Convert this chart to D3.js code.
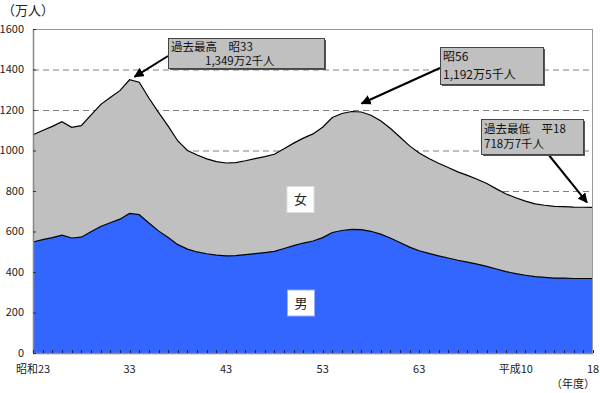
<!DOCTYPE html>
<html><head><meta charset="utf-8">
<script src="https://cdn.jsdelivr.net/npm/d3@7"></script>
<style>
html,body{margin:0;padding:0;background:#fff;}
svg{display:block;font-family:"Noto Sans CJK JP","Noto Sans",sans-serif;}
</style></head>
<body><svg id="c" width="600" height="393"></svg>
<script>
// 年度 (西暦)
const years = d3.range(1948, 2007);
// 男 (万人)
const male = [548,560,570,582,568,572,599,625,643,661,689,683,642,603,570,535,513,499,490,483,480,481,486,491,496,502,516,530,543,553,570,595,605,610,609,601,587,568,546,523,505,492,480,469,458,449,439,428,415,402,392,384,377,373,370,370,368,368,368];
// 合計 (万人)
const total = [1077.5,1099.1,1119.1,1142.3,1114.8,1122.5,1175.1,1226.7,1261.6,1295.6,1349.2,1337.5,1259.1,1188.0,1120.0,1047.0,1000.0,977.6,958.4,945.3,938.3,940.3,949.3,959.6,969.6,981.6,1008.9,1036.5,1061.0,1081.9,1114.6,1163.0,1182.7,1192.5,1190.2,1173.9,1146.5,1109.5,1066.5,1022.7,987.3,960.7,937.3,915.7,894.7,876.9,858.3,837.0,810.5,785.5,766.4,750.0,736.6,729.7,723.9,722.7,720.1,719.7,718.7];
const yTicks = [0,200,400,600,800,1000,1200,1400,1600];
const xLabels = [[1948,"昭和23"],[1958,"33"],[1968,"43"],[1978,"53"],[1988,"63"],[1998,"平成10"],[2006,"18"]];
const seriesNames = ["男","女"];

const rows = years.map((y,i)=>({year:y, "男":male[i], "女":+(total[i]-male[i]).toFixed(1)}));
const stack = d3.stack().keys(seriesNames)(rows);

const svg = d3.select("#c");
const L=33, R=593, T=29, B=353;
const x = d3.scaleLinear().domain([1948,2006]).range([L,R]);
const y = d3.scaleLinear().domain([0,1600]).range([B,T]);

// gridlines
svg.append("g").selectAll("line").data(yTicks.filter(v=>v>0&&v<1600)).join("line")
  .attr("x1",L).attr("x2",R).attr("y1",d=>y(d)+0.5).attr("y2",d=>y(d)+0.5)
  .attr("stroke","#808080").attr("stroke-width",1).attr("stroke-dasharray","6,4");

const colors = {"男":"#3366ff","女":"#c0c0c0"};
const area = d3.area().x(d=>x(d.data.year)).y0(d=>y(d[0])).y1(d=>y(d[1]));
const line = d3.line().x(d=>x(d.data.year)).y(d=>y(d[1]));
svg.append("g").selectAll("path").data(stack).join("path")
  .attr("d",area).attr("fill",d=>colors[d.key]);
svg.append("g").selectAll("path").data(stack).join("path")
  .attr("d",line).attr("fill","none").attr("stroke","#000").attr("stroke-width",1.2);

// plot border
svg.append("rect").attr("x",L+0.5).attr("y",T+0.5).attr("width",R-L-1).attr("height",B-T)
  .attr("fill","none").attr("stroke","#999");
// axes lines
svg.append("line").attr("x1",L).attr("x2",R).attr("y1",B+0.5).attr("y2",B+0.5).attr("stroke","#888").attr("stroke-width",1.5);
svg.append("line").attr("x1",L+0.5).attr("x2",L+0.5).attr("y1",T).attr("y2",B).attr("stroke","#888").attr("stroke-width",1.5);

// x ticks (inward)
svg.append("g").selectAll("line").data(years).join("line")
  .attr("x1",d=>Math.round(x(d))+0.5).attr("x2",d=>Math.round(x(d))+0.5)
  .attr("y1",B).attr("y2",B-3).attr("stroke","#102060").attr("stroke-width",1);
// y ticks (inward)
svg.append("g").selectAll("line").data(yTicks).join("line")
  .attr("x1",L).attr("x2",L+3).attr("y1",d=>y(d)+0.5).attr("y2",d=>y(d)+0.5)
  .attr("stroke","#333");

// y labels
svg.append("g").selectAll("text").data(yTicks).join("text")
  .attr("x",24).attr("y",d=>y(d)).attr("dy","0.35em").attr("text-anchor","end")
  .attr("font-size",11).attr("fill","#222").text(d=>d);
// x labels
svg.append("g").selectAll("text").data(xLabels).join("text")
  .attr("x",d=>x(d[0])).attr("y",369).attr("dy","0.35em").attr("text-anchor","middle")
  .attr("font-size",11).attr("fill","#222").text(d=>d[1]);

svg.append("text").attr("x",2).attr("y",10).attr("dy","0.35em").attr("font-size",13).attr("fill","#222").text("（万人）");
svg.append("text").attr("x",595).attr("y",384).attr("dy","0.35em").attr("text-anchor","end").attr("font-size",11).attr("fill","#222").text("（年度）");

// series labels
function labelBox(cx,cy,t,stroke){
  svg.append("rect").attr("x",cx-13.5).attr("y",cy-13).attr("width",27).attr("height",26).attr("fill","#fff").attr("stroke",stroke);
  svg.append("text").attr("x",cx).attr("y",cy).attr("dy","0.36em").attr("text-anchor","middle").attr("font-size",13).attr("fill","#222").text(t);
}
labelBox(300.5,199.5,"女","#ddd");
labelBox(301,303,"男","#9ab0ff");

// arrow marker
svg.append("defs").append("marker").attr("id","ah").attr("viewBox","0 0 10 10").attr("refX",9).attr("refY",5)
  .attr("markerWidth",5).attr("markerHeight",5).attr("orient","auto-start-reverse").attr("markerUnits","strokeWidth")
  .append("path").attr("d","M0,0L10,5L0,10z").attr("fill","#000");

function callout(bx,by,bw,bh,fs,lines,from,tip){
  svg.append("line").attr("x1",from[0]).attr("y1",from[1]).attr("x2",tip[0]).attr("y2",tip[1])
    .attr("stroke","#000").attr("stroke-width",2).attr("marker-end","url(#ah)");
  svg.append("rect").attr("x",bx+2).attr("y",by+2).attr("width",bw).attr("height",bh).attr("fill","#555");
  svg.append("rect").attr("x",bx+0.5).attr("y",by+0.5).attr("width",bw).attr("height",bh).attr("fill","#c0c0c0").attr("stroke","#444");
  lines.forEach(l=>{
    svg.append("text").attr("x",bx+l[0]).attr("y",by+l[1]).attr("dy","0.36em").attr("font-size",fs).attr("fill","#111").text(l[2]);
  });
}
callout(168,38,156,30,11.5,[[3,9,"過去最高　昭33"],[37,23,"1,349万2千人"]],[168,56],[x(1958)+5,y(1349.2)-3]);
callout(440,47,103,37,12,[[3,10,"昭56"],[3,28,"1,192万5千人"]],[440,68],[x(1981)+10,y(1192.5)-8]);
callout(481,119,102,35,11.5,[[3,10,"過去最低　平18"],[3,25,"718万7千人"]],[548,154],[x(2006)-6,y(718.7)-5]);
</script></body></html>
